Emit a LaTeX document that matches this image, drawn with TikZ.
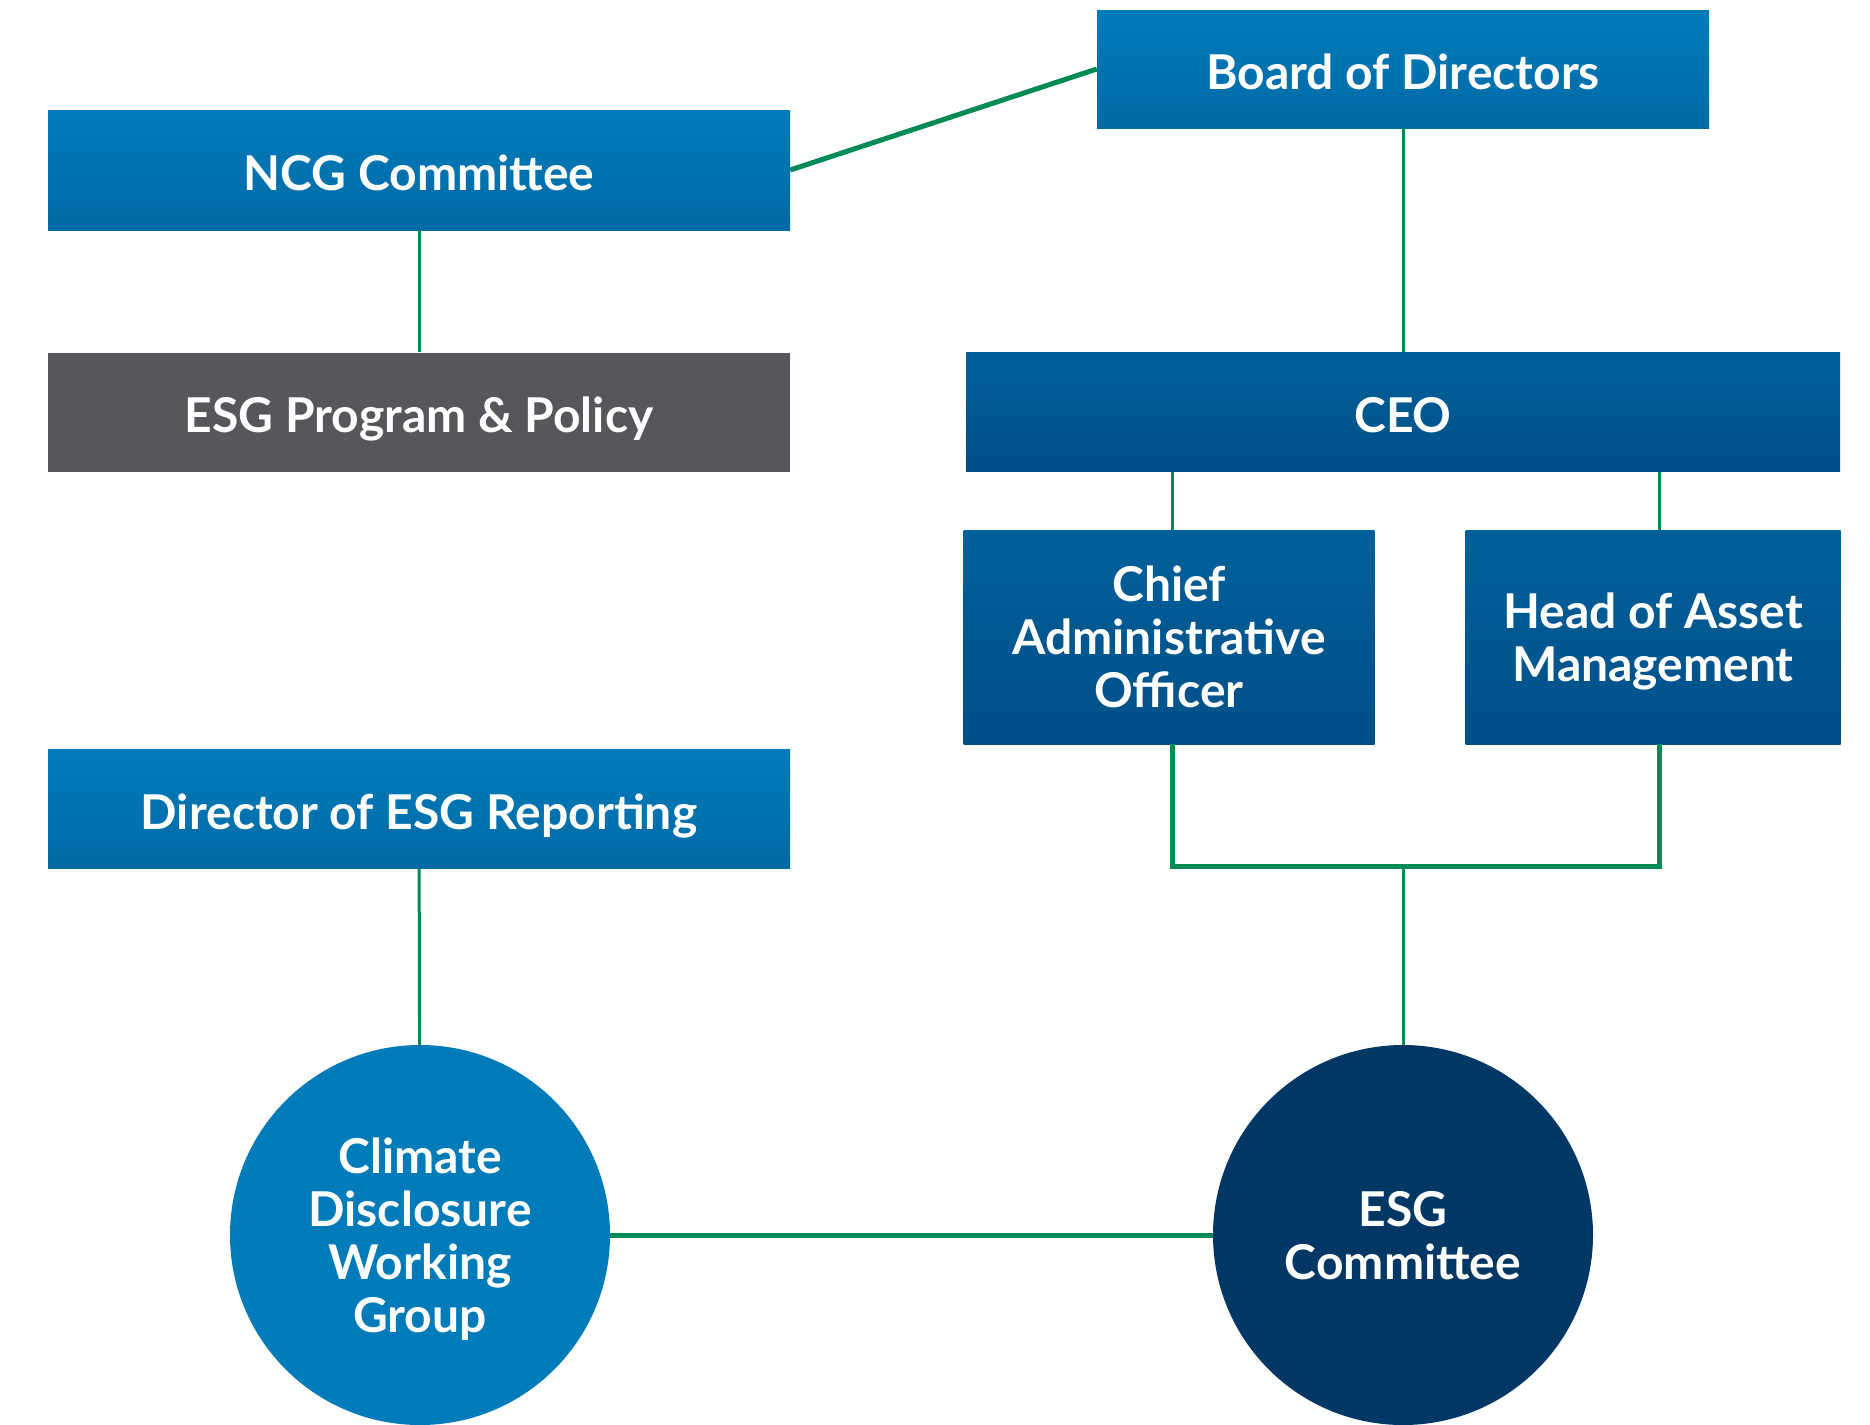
\documentclass[tikz,border=0pt]{standalone}
\usepackage{fontspec}
\setmainfont{Lato}
\definecolor{boardtop}{HTML}{007BBA}
\definecolor{boardbot}{HTML}{006AA5}
\definecolor{ceotop}{HTML}{006099}
\definecolor{ceobot}{HTML}{004F88}
\definecolor{policygray}{HTML}{56575B}
\definecolor{workblue}{HTML}{007BBA}
\definecolor{committeenavy}{HTML}{003764}
\definecolor{linkgreen}{HTML}{008A55}

\begin{document}
\begin{tikzpicture}[x=1pt,y=-1pt,
		box/.style={rectangle,inner sep=0pt,text=white,align=center,text depth=0pt,font=\fontsize{48}{53}\selectfont\bfseries},
		oneline/.style={text height=41pt},
		board/.style={box,top color=boardtop,bottom color=boardbot},
		exec/.style={box,top color=ceotop,bottom color=ceobot},
		group/.style={circle,inner sep=0pt,minimum size=380pt,text=white,align=center,text depth=0pt,font=\fontsize{48}{53}\selectfont\bfseries},
		link/.style={draw=linkgreen,line width=3pt},
		thicklink/.style={draw=linkgreen,line width=5pt}]
		\useasboundingbox (0,0) rectangle (1870,1424);
		
		% boxes, left column
		\node[board,oneline,minimum width=742pt,minimum height=120pt] (ncg) at (419,170) {NCG Committee};
		\node[box,oneline,fill=policygray,minimum width=742pt,minimum height=119pt] (policy) at (419,412) {ESG Program \& Policy};
		\node[board,oneline,minimum width=742pt,minimum height=119pt] (director) at (419,809) {Director of ESG Reporting};
		
		% boxes, right column
		\node[board,oneline,minimum width=612pt,minimum height=118pt] (bod) at (1403,69) {Board of Directors};
		\node[exec,oneline,minimum width=874pt,minimum height=119pt] (ceo) at (1403,412) {CEO};
		\node[exec,minimum width=411pt,minimum height=214pt] (cao) at (1169,637) {Chief\\Administrative\\Officer};
		\node[exec,minimum width=375pt,minimum height=214pt] (ham) at (1653,637) {Head of Asset\\Management};
		
		% the two groups at the bottom
		\node[group,fill=workblue] (cdwg) at (420,1235) {Climate\\Disclosure\\Working\\Group};
		\node[group,fill=committeenavy] (esgc) at (1403,1235) {ESG\\Committee};
		
		% reporting lines
		\draw[thicklink] (ncg.east) -- (bod.west);
		\draw[link] (ncg) -- (policy);
		\draw[link] (bod) -- (ceo);
		\draw[link] ([xshift=3pt]cao.north) -- ([xshift=3pt]cao.north |- ceo.south);
		\draw[link] ([xshift=6pt]ham.north) -- ([xshift=6pt]ham.north |- ceo.south);
		\coordinate (join) at (1403,866);
		\draw[thicklink] ([xshift=3pt]cao.south) |- (join) -| ([xshift=6pt]ham.south);
		\draw[link] (join) -- (esgc.north);
		\draw[link] (director) -- (cdwg);
		\draw[thicklink] (cdwg) -- (esgc);
	\end{tikzpicture}
\end{document}
